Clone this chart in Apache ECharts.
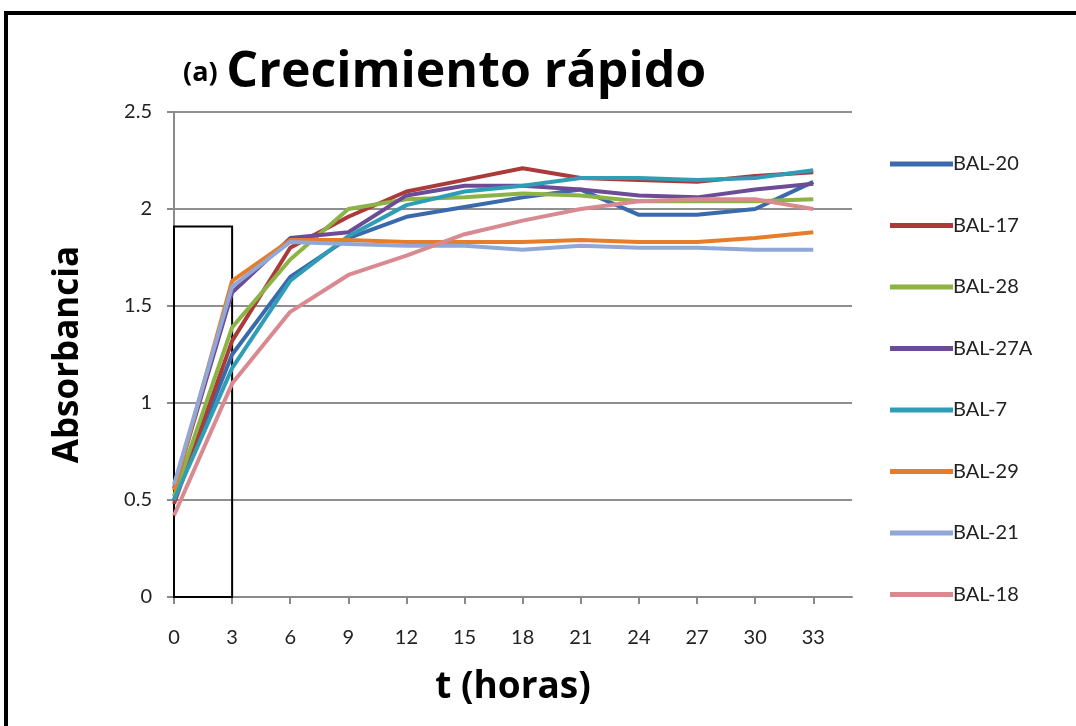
<!DOCTYPE html>
<html>
<head>
<meta charset="utf-8">
<script src="https://cdn.jsdelivr.net/npm/echarts@6/dist/echarts.min.js"></script>
<style>html,body{margin:0;padding:0;background:#fff}#c{width:1076px;height:726px}</style>
</head>
<body>
<div id="c"></div>
<script>
const hours = [0, 3, 6, 9, 12, 15, 18, 21, 24, 27, 30, 33];
const xTicks = [0, 3, 6, 9, 12, 15, 18, 21, 24, 27, 30, 33];
const seriesNames = ['BAL-20', 'BAL-17', 'BAL-28', 'BAL-27A', 'BAL-7', 'BAL-29', 'BAL-21', 'BAL-18'];
const bal20  = [0.50, 1.25, 1.65, 1.85, 1.96, 2.01, 2.06, 2.10, 1.97, 1.97, 2.00, 2.14];
const bal17  = [0.48, 1.32, 1.80, 1.96, 2.09, 2.15, 2.21, 2.16, 2.15, 2.14, 2.17, 2.19];
const bal28  = [0.52, 1.39, 1.74, 2.00, 2.05, 2.06, 2.08, 2.07, 2.04, 2.04, 2.04, 2.05];
const bal27A = [0.56, 1.57, 1.85, 1.88, 2.07, 2.12, 2.12, 2.10, 2.07, 2.06, 2.10, 2.13];
const bal7   = [0.50, 1.18, 1.63, 1.86, 2.02, 2.09, 2.12, 2.16, 2.16, 2.15, 2.16, 2.20];
const bal29  = [0.55, 1.63, 1.84, 1.84, 1.83, 1.83, 1.83, 1.84, 1.83, 1.83, 1.85, 1.88];
const bal21  = [0.58, 1.60, 1.83, 1.82, 1.81, 1.81, 1.79, 1.81, 1.80, 1.80, 1.79, 1.79];
const bal18  = [0.42, 1.10, 1.47, 1.66, 1.76, 1.87, 1.94, 2.00, 2.04, 2.05, 2.05, 2.00];
const boxRange = [[0, 0], [3, 1.91]];

const allValues = [bal20, bal17, bal28, bal27A, bal7, bal29, bal21, bal18];
const colors = ['#3a6aac', '#ab3a3a', '#8db245', '#6c4c96', '#2f9db6', '#e57d2b', '#8fa8d8', '#d98a90'];

const chart = echarts.init(document.getElementById('c'));
const series = seriesNames.map((n, i) => ({
  name: n,
  type: 'line',
  showSymbol: false,
  data: hours.map((h, k) => [h, allValues[i][k]]),
  lineStyle: { width: 4, color: colors[i] },
  itemStyle: { color: colors[i] },
  z: 2
}));
series.push({
  type: 'line',
  data: [],
  z: 5,
  markArea: {
    silent: true,
    itemStyle: { color: 'rgba(0,0,0,0)', borderColor: '#000', borderWidth: 2 },
    data: [[{ coord: boxRange[0] }, { coord: boxRange[1] }]]
  }
});

chart.setOption({
  animation: false,
  backgroundColor: '#fff',
  textStyle: { fontFamily: 'Lato' },
  title: {
    left: 178, top: 43,
    text: '{a|(a)}  {b|Crecimiento rápido}',
    textStyle: {
      rich: {
        a: { fontFamily: 'Open Sans', fontWeight: 'bold', fontSize: 27, color: '#000' },
        b: { fontFamily: 'Open Sans', fontWeight: 'bold', fontSize: 50, color: '#000' }
      }
    }
  },
  graphic: [{
    type: 'rect', shape: { x: 6, y: 13, width: 1200, height: 900 },
    style: { fill: 'none', stroke: '#000', lineWidth: 4 }, silent: true
  }],
  legend: {
    orient: 'vertical', left: 885, top: 148,
    itemWidth: 63, itemHeight: 5, itemGap: 39.5,
    icon: 'rect',
    textStyle: { fontFamily: 'Lato', fontSize: 20, color: '#222', lineHeight: 22, padding: [0, 0, 0, -5] },
    data: seriesNames
  },
  grid: { left: 174, top: 112, right: 224, bottom: 129 },
  xAxis: {
    type: 'value', min: 0, max: 35, interval: 3,
    name: 't (horas)', nameLocation: 'middle', nameGap: 72,
    nameTextStyle: { fontFamily: 'Open Sans', fontWeight: 'bold', fontSize: 37, color: '#000' },
    axisLine: { lineStyle: { color: '#8a8a8a', width: 2 } },
    axisTick: { show: true, length: 7, lineStyle: { color: '#8a8a8a', width: 2 }, customValues: xTicks },
    axisLabel: { customValues: xTicks, margin: 31, fontSize: 20, color: '#222', fontFamily: 'Lato' },
    splitLine: { show: false }
  },
  yAxis: {
    type: 'value', min: 0, max: 2.5, interval: 0.5,
    name: 'Absorbancia', nameLocation: 'middle', nameGap: 88,
    nameTextStyle: { fontFamily: 'Open Sans', fontWeight: 'bold', fontSize: 35, color: '#000' },
    axisLine: { show: true, lineStyle: { color: '#8a8a8a', width: 2 } },
    axisTick: { show: true, length: 7, lineStyle: { color: '#8a8a8a', width: 2 } },
    axisLabel: { margin: 22, fontSize: 20, color: '#222', fontFamily: 'Lato' },
    splitLine: { show: true, lineStyle: { color: '#8f8f8f', width: 2 } }
  },
  series: series
});
</script>
</body>
</html>
